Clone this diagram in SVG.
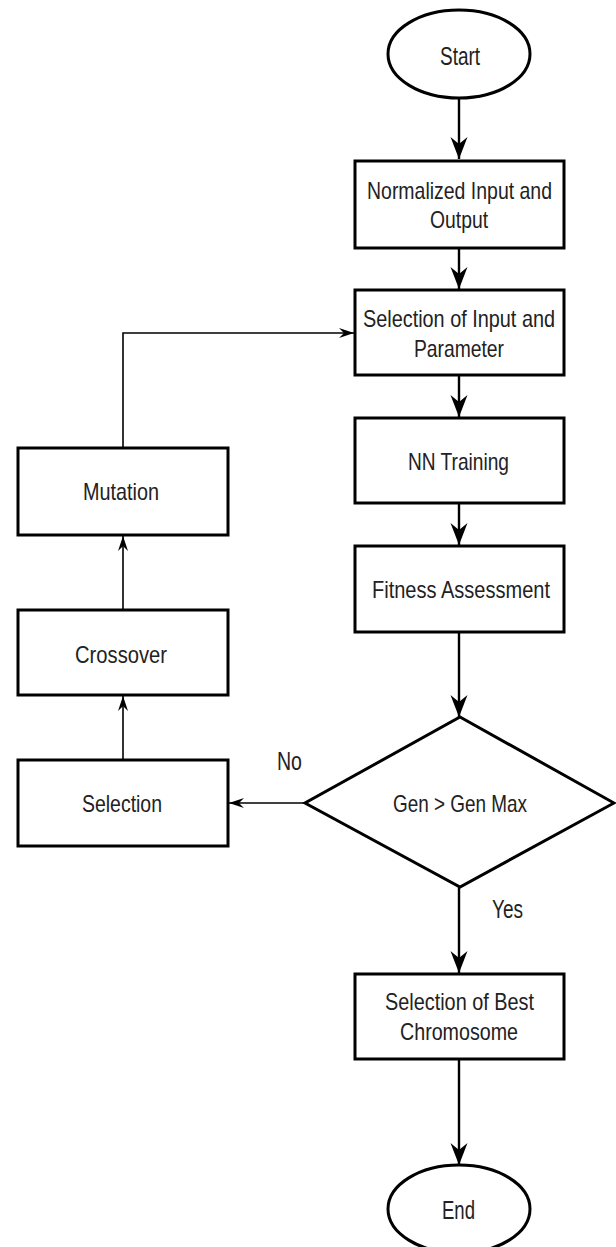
<svg xmlns="http://www.w3.org/2000/svg" width="616" height="1247" viewBox="0 0 616 1247">
<style>
.n{fill:#fff;stroke:#000;stroke-width:3}
.t{font-family:"Liberation Sans",Arial,sans-serif;font-size:24px;fill:#222;text-anchor:middle}
.b{font-size:25px}
.c{fill:none;stroke:#000;stroke-width:2.4}
.c2{fill:none;stroke:#000;stroke-width:1.6}
</style>
<defs>
<marker id="a" markerUnits="userSpaceOnUse" markerWidth="24" markerHeight="20" refX="22" refY="9" orient="auto">
<path d="M0,0.5 L22,9 L0,17.5 L7,9 Z" fill="#000"/>
</marker>
<marker id="b" markerUnits="userSpaceOnUse" markerWidth="16" markerHeight="12" refX="15" refY="5.5" orient="auto">
<path d="M0,0.5 L15,5.5 L0,10.5 L5,5.5 Z" fill="#000"/>
</marker>
</defs>
<g id="connectors">
<path class="c" d="M459,98 V159" marker-end="url(#a)"/>
<path class="c" d="M459,248 V289" marker-end="url(#a)"/>
<path class="c" d="M459,375 V417" marker-end="url(#a)"/>
<path class="c" d="M459,503 V545" marker-end="url(#a)"/>
<path class="c" d="M459,632 V717" marker-end="url(#a)"/>
<path class="c" d="M459,887 V973" marker-end="url(#a)"/>
<path class="c" d="M459,1059 V1165" marker-end="url(#a)"/>
<path class="c2" d="M305,803 H229" marker-end="url(#b)"/>
<path class="c2" d="M123,760 V696" marker-end="url(#b)"/>
<path class="c2" d="M123,610 V536" marker-end="url(#b)"/>
<path class="c2" d="M123,448 V333 H354" marker-end="url(#b)"/>
<text class="t b" x="289.5" y="770" textLength="25" lengthAdjust="spacingAndGlyphs">No</text>
<text class="t b" x="507.5" y="918" textLength="31" lengthAdjust="spacingAndGlyphs">Yes</text>
</g>
<g id="start"><ellipse class="n" cx="459" cy="54" rx="71" ry="44"/><text class="t b" x="460" y="65" textLength="40" lengthAdjust="spacingAndGlyphs">Start</text></g>
<g id="normalize"><rect class="n" x="355" y="161" width="209" height="87"/><text class="t" x="459.5" y="199" textLength="185" lengthAdjust="spacingAndGlyphs">Normalized Input and</text><text class="t" x="459" y="228" textLength="58" lengthAdjust="spacingAndGlyphs">Output</text></g>
<g id="selinput"><rect class="n" x="355" y="290" width="209" height="85"/><text class="t" x="459" y="327" textLength="192" lengthAdjust="spacingAndGlyphs">Selection of Input and</text><text class="t" x="459" y="357" textLength="90" lengthAdjust="spacingAndGlyphs">Parameter</text></g>
<g id="nn"><rect class="n" x="355" y="418" width="209" height="85"/><text class="t" x="458.5" y="470" textLength="101" lengthAdjust="spacingAndGlyphs">NN Training</text></g>
<g id="fitness"><rect class="n" x="355" y="546" width="209" height="86"/><text class="t" x="461" y="598" textLength="178" lengthAdjust="spacingAndGlyphs">Fitness Assessment</text></g>
<g id="decision"><polygon class="n" points="460,717 614,803 460,887 305,803"/><text class="t" x="460" y="812" textLength="134" lengthAdjust="spacingAndGlyphs">Gen &gt; Gen Max</text></g>
<g id="best"><rect class="n" x="355" y="974" width="209" height="85"/><text class="t" x="459.5" y="1010" textLength="149" lengthAdjust="spacingAndGlyphs">Selection of Best</text><text class="t" x="459" y="1040" textLength="118" lengthAdjust="spacingAndGlyphs">Chromosome</text></g>
<g id="end"><ellipse class="n" cx="459" cy="1209" rx="71" ry="44"/><text class="t b" x="458.5" y="1219" textLength="33" lengthAdjust="spacingAndGlyphs">End</text></g>
<g id="mutation"><rect class="n" x="18" y="448" width="210" height="87"/><text class="t" x="121" y="500" textLength="76" lengthAdjust="spacingAndGlyphs">Mutation</text></g>
<g id="crossover"><rect class="n" x="18" y="610" width="210" height="85"/><text class="t" x="121" y="663" textLength="92" lengthAdjust="spacingAndGlyphs">Crossover</text></g>
<g id="selection"><rect class="n" x="18" y="760" width="210" height="86"/><text class="t" x="122" y="812" textLength="80" lengthAdjust="spacingAndGlyphs">Selection</text></g>
</svg>
